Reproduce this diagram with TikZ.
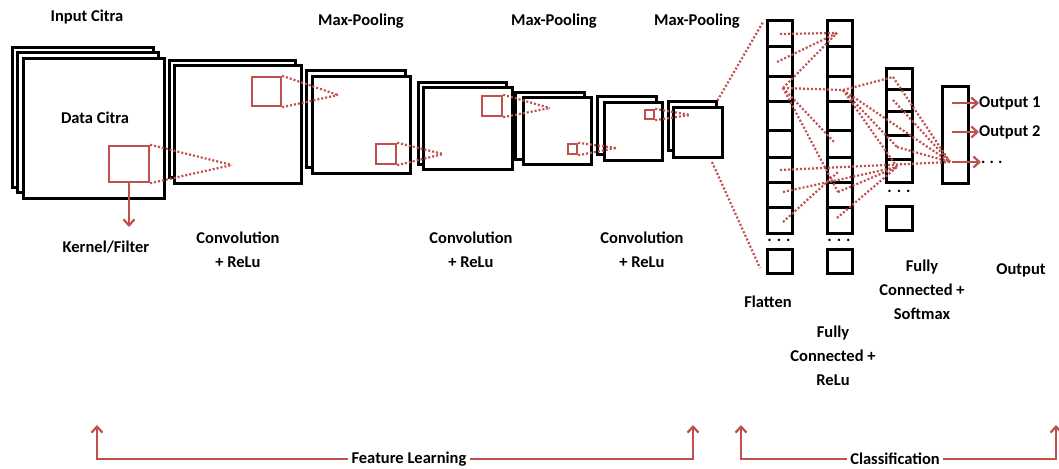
\documentclass[tikz,border=0pt]{standalone}
\usepackage{fontspec}
\setmainfont{Carlito}
\usetikzlibrary{arrows.meta}
\definecolor{kred}{HTML}{C0504D}
\tikzset{
  fm/.style 2 args={draw=black, fill=white, line width=3pt, inner sep=0pt,
                    minimum width=#1pt, minimum height=#2pt},
  kern/.style 2 args={draw=kred, line width=2.4pt, inner sep=0pt,
                    minimum width=#1pt, minimum height=#2pt},
  cellbox/.style={draw=black, fill=white, line width=3pt, inner sep=0pt,
                  minimum width=25pt},
  dotl/.style={draw=kred, line width=2.2pt, dash pattern=on 2pt off 2pt},
  redarr/.style={draw=kred, line width=2.4pt, -{Straight Barb[length=6pt,width=11pt,line width=2.2pt]}},
  lbl/.style={font=\fontsize{16.5}{24}\selectfont\bfseries, align=center, inner sep=0pt},
  dots/.style={font=\fontsize{16.5}{24}\selectfont\bfseries, inner sep=0pt}
}
\begin{document}
\begin{tikzpicture}[x=1pt,y=-1pt]
\useasboundingbox (0,0) rectangle (1059,468);

% ---- feature maps (back sheet first, front sheet on top)
\node[fm={141}{139}] (in3) at (82.5,117.5) {};
\node[fm={141}{139}] (in2) at (87.5,122.5) {};
\node[fm={141}{139}] (in1) at (93.5,128.5) {};
\node[fm={126}{116}] (c1b) at (232,119) {};
\node[fm={127}{117}] (c1f) at (237.5,124.5) {};
\node[fm={99}{96}]   (p1b) at (355.5,119) {};
\node[fm={98}{96}]   (p1f) at (361,125) {};
\node[fm={88}{81}]   (c2b) at (462,123.5) {};
\node[fm={89}{81}]   (c2f) at (467.5,128.5) {};
\node[fm={69}{66}]   (p2b) at (549.5,126) {};
\node[fm={68}{66}]   (p2f) at (557,131) {};
\node[fm={59}{57}]   (c3b) at (626.5,125.5) {};
\node[fm={58}{57}]   (c3f) at (633,131.5) {};
\node[fm={48}{48}]   (p3b) at (692,126) {};
\node[fm={49}{49}]   (p3f) at (697.5,132.5) {};

% ---- kernels
\node[kern={40}{36}] (k0) at (129,164) {};
\node[kern={29}{29}] (k1) at (266.5,91.5) {};
\node[kern={20}{20}] (k2) at (386,154) {};
\node[kern={20}{20}] (k3) at (492,106) {};
\node[kern={9}{10}]  (k4) at (572.5,149) {};
\node[kern={9}{9}]   (k5) at (649.5,114.5) {};

\coordinate (v0) at (232,165);
\coordinate (v1) at (338,95);
\coordinate (v2) at (443,154);
\coordinate (v3) at (550,108);
\coordinate (v4) at (616,148);
\coordinate (v5) at (690,115);

\foreach \k/\v in {k0/v0,k1/v1,k2/v2,k3/v3,k4/v4,k5/v5}{
  \draw[dotl] (\k.north east) -- (\v);
  \draw[dotl] (\k.south east) -- (\v);
}

\node[lbl] (tdata) at (95,118) {Data Citra};
\coordinate (kend) at (129,227);
\draw[redarr] (k0.south) -- (kend);

% ---- flatten and fully connected columns
\foreach \a/\b [count=\i] in {21/47,47/77,77/102,102/130,130/157,157/182,182/207,207/233}{
  \node[cellbox, minimum height={(\b-\a)*1pt}] (fl\i) at (779.5,{(\a+\b)/2}) {};
  \node[cellbox, minimum height={(\b-\a)*1pt}] (fc\i) at (839.5,{(\a+\b)/2}) {};
}
\node[cellbox, minimum height=24pt] (fln) at (779.5,261) {};
\node[cellbox, minimum height=24pt] (fcn) at (839.5,261) {};
\node[dots] (fld) at (779,240) {.\hspace{5pt}.\hspace{5pt}.};
\node[dots] (fcd) at (839,240) {.\hspace{5pt}.\hspace{5pt}.};

\foreach \a/\b [count=\i] in {69/90,90/112,112/135,135/159,159/182}{
  \node[cellbox, minimum width=26pt, minimum height={(\b-\a)*1pt}] (sm\i) at (899,{(\a+\b)/2}) {};
}
\node[cellbox, minimum width=26pt, minimum height=24pt] (smn) at (899,218) {};
\node[dots] (smd) at (899,191) {.\hspace{5pt}.\hspace{5pt}.};

\node[cellbox, minimum width=26pt, minimum height=96pt] (outc) at (955,135) {};

% ---- dotted links into the flatten layer
\coordinate (ft) at (763,22);
\coordinate (fb) at (760,268);
\coordinate (pb) at (712,162);
\draw[dotl] (p3b.north east) -- (ft);
\draw[dotl] (pb) -- (fb);

% ---- dotted links between the dense layers
\coordinate (F1) at (780,34);
\coordinate (F2) at (777,62);
\coordinate (F3) at (783,88);
\coordinate (F6) at (780,170);
\coordinate (F7) at (783,192);
\coordinate (F8) at (783,222);
\coordinate (C1) at (837,33);
\coordinate (C3) at (843,90);
\coordinate (C5) at (835,143);
\coordinate (C6) at (838,172);
\coordinate (C7) at (838,192);
\coordinate (C8) at (837,218);
\coordinate (S1) at (893,77);
\coordinate (S2) at (893,100);
\coordinate (S4) at (897,147);
\coordinate (S5) at (897,167);
\coordinate (O)  at (950,162);
\foreach \p/\q in {F1/C1,F2/C1,F3/C1,F3/C3,F3/C5,F3/C7,F6/O,F7/S5,F8/C6,
                   C7/S5,C8/S5,C3/S1,C3/S4,C3/S5,C3/O,S1/O,S2/O,S4/O}{
  \draw[dotl] (\p) -- (\q);
}

% ---- outputs
\coordinate (o1) at (952,103);
\coordinate (o2) at (952,132);
\coordinate (o3) at (952,162);
\node[lbl, anchor=west] (out1) at (979,103) {Output 1};
\node[lbl, anchor=west] (out2) at (979,132) {Output 2};
\node[dots, anchor=west] (out3) at (981,162) {.\hspace{4pt}.\hspace{4pt}.};
\draw[redarr] (o1) -- (out1.west);
\draw[redarr] (o2) -- (out2.west);
\draw[redarr] (o3) -- (out3.west);

% ---- labels
\node[lbl] (tin)  at (87,17)  {Input Citra};
\node[lbl] (tmp1) at (361,21) {Max-Pooling};
\node[lbl] (tmp2) at (554,21) {Max-Pooling};
\node[lbl] (tmp3) at (697,21) {Max-Pooling};
\node[lbl] (tker) at (106,247) {Kernel/Filter};
\node[lbl] (tcv1) at (238,249.5) {Convolution\\+ ReLu};
\node[lbl] (tcv2) at (471,249.5) {Convolution\\+ ReLu};
\node[lbl] (tcv3) at (642,249.5) {Convolution\\+ ReLu};
\node[lbl] (tflat) at (768,302) {Flatten};
\node[lbl] (tfcr) at (833,356) {Fully\\Connected +\\ReLu};
\node[lbl] (tfcs) at (922,290) {Fully\\Connected +\\Softmax};
\node[lbl] (tout) at (1021,270) {Output};

% ---- section brackets
\node[lbl, inner xsep=3pt] (tfl) at (409,459) {Feature Learning};
\coordinate (fla) at (97,425);
\coordinate (flb) at (693,425);
\draw[redarr] (tfl.west) -| (fla);
\draw[redarr] (tfl.east) -| (flb);
\node[lbl, inner xsep=3pt] (tcl) at (895,459) {Classification};
\coordinate (cla) at (741,425);
\coordinate (clb) at (1056,425);
\draw[redarr] (tcl.west) -| (cla);
\draw[redarr] (tcl.east) -| (clb);
\end{tikzpicture}
\end{document}
